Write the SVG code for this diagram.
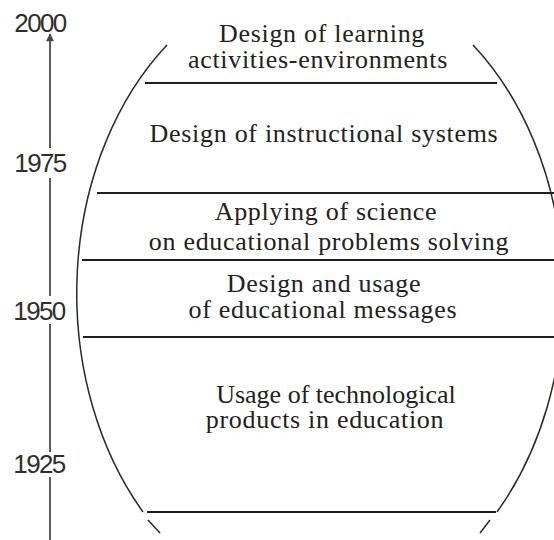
<svg xmlns="http://www.w3.org/2000/svg" width="554" height="540" viewBox="0 0 554 540">
  <defs>
    <marker id="arrowUp" viewBox="0 0 10 10" refX="9" refY="5" markerWidth="9" markerHeight="8" orient="auto" markerUnits="userSpaceOnUse">
      <path d="M0,0 L10,5 L0,10 Z" fill="#4a4a40"/>
    </marker>
  </defs>
  <style>
    .year { font-family: "Liberation Sans", Arial, sans-serif; font-size: 26px; fill: #2f2f28; text-anchor: middle; letter-spacing: -1.6px; }
    .axis { stroke: #5c5c50; stroke-width: 2; fill: none; }
    .shell { stroke: #2a2a24; stroke-width: 1.5; fill: none; }
    .band { stroke: #1e1e1a; stroke-width: 2; }
    .label { font-family: "Liberation Serif", "Times New Roman", serif; font-size: 26px; fill: #22221c; text-anchor: middle; letter-spacing: 0.7px; }
    .tight { letter-spacing: 0px; }
  </style>
  <rect width="554" height="540" fill="#ffffff"/>

  <!-- time axis -->
  <g id="axis">
    <line class="axis" x1="50" y1="148" x2="50" y2="34" marker-end="url(#arrowUp)"/>
    <line class="axis" x1="50" y1="178" x2="50" y2="296"/>
    <line class="axis" x1="50" y1="324" x2="50" y2="452"/>
    <line class="axis" x1="50" y1="477" x2="50" y2="540"/>
    <text class="year" x="40" y="32">2000</text>
    <text class="year" x="40" y="172">1975</text>
    <text class="year" x="39" y="320">1950</text>
    <text class="year" x="39" y="473">1925</text>
  </g>

  <!-- barrel outline -->
  <g id="shell">
    <path class="shell" d="M167,45 A243,319 0 0 0 143,512"/>
    <path class="shell" d="M473,45 A243,319 0 0 1 497,512"/>
    <line class="shell" x1="148" y1="520" x2="160" y2="533"/>
    <line class="shell" x1="490" y1="520" x2="480" y2="533"/>
  </g>

  <!-- band dividers -->
  <g id="connectors">
    <line class="band" x1="145" y1="83" x2="497" y2="83"/>
    <line class="band" x1="97" y1="193" x2="554" y2="193"/>
    <line class="band" x1="82" y1="260" x2="554" y2="260"/>
    <line class="band" x1="83" y1="337" x2="554" y2="337"/>
    <line class="band" x1="147" y1="512" x2="496" y2="512"/>
  </g>

  <g id="learning-activities">
    <text class="label" x="322" y="42">Design of learning</text>
    <text class="label" x="318" y="68">activities-environments</text>
  </g>
  <g id="instructional-systems">
    <text class="label" x="324" y="142">Design of instructional systems</text>
  </g>
  <g id="applying-science">
    <text class="label" x="326" y="220">Applying of science</text>
    <text class="label" x="329" y="250">on educational problems solving</text>
  </g>
  <g id="educational-messages">
    <text class="label" x="324" y="292">Design and usage</text>
    <text class="label" x="323" y="318">of educational messages</text>
  </g>
  <g id="technological-products">
    <text class="label tight" x="336" y="403">Usage of technological</text>
    <text class="label" x="325" y="428">products in education</text>
  </g>
</svg>
